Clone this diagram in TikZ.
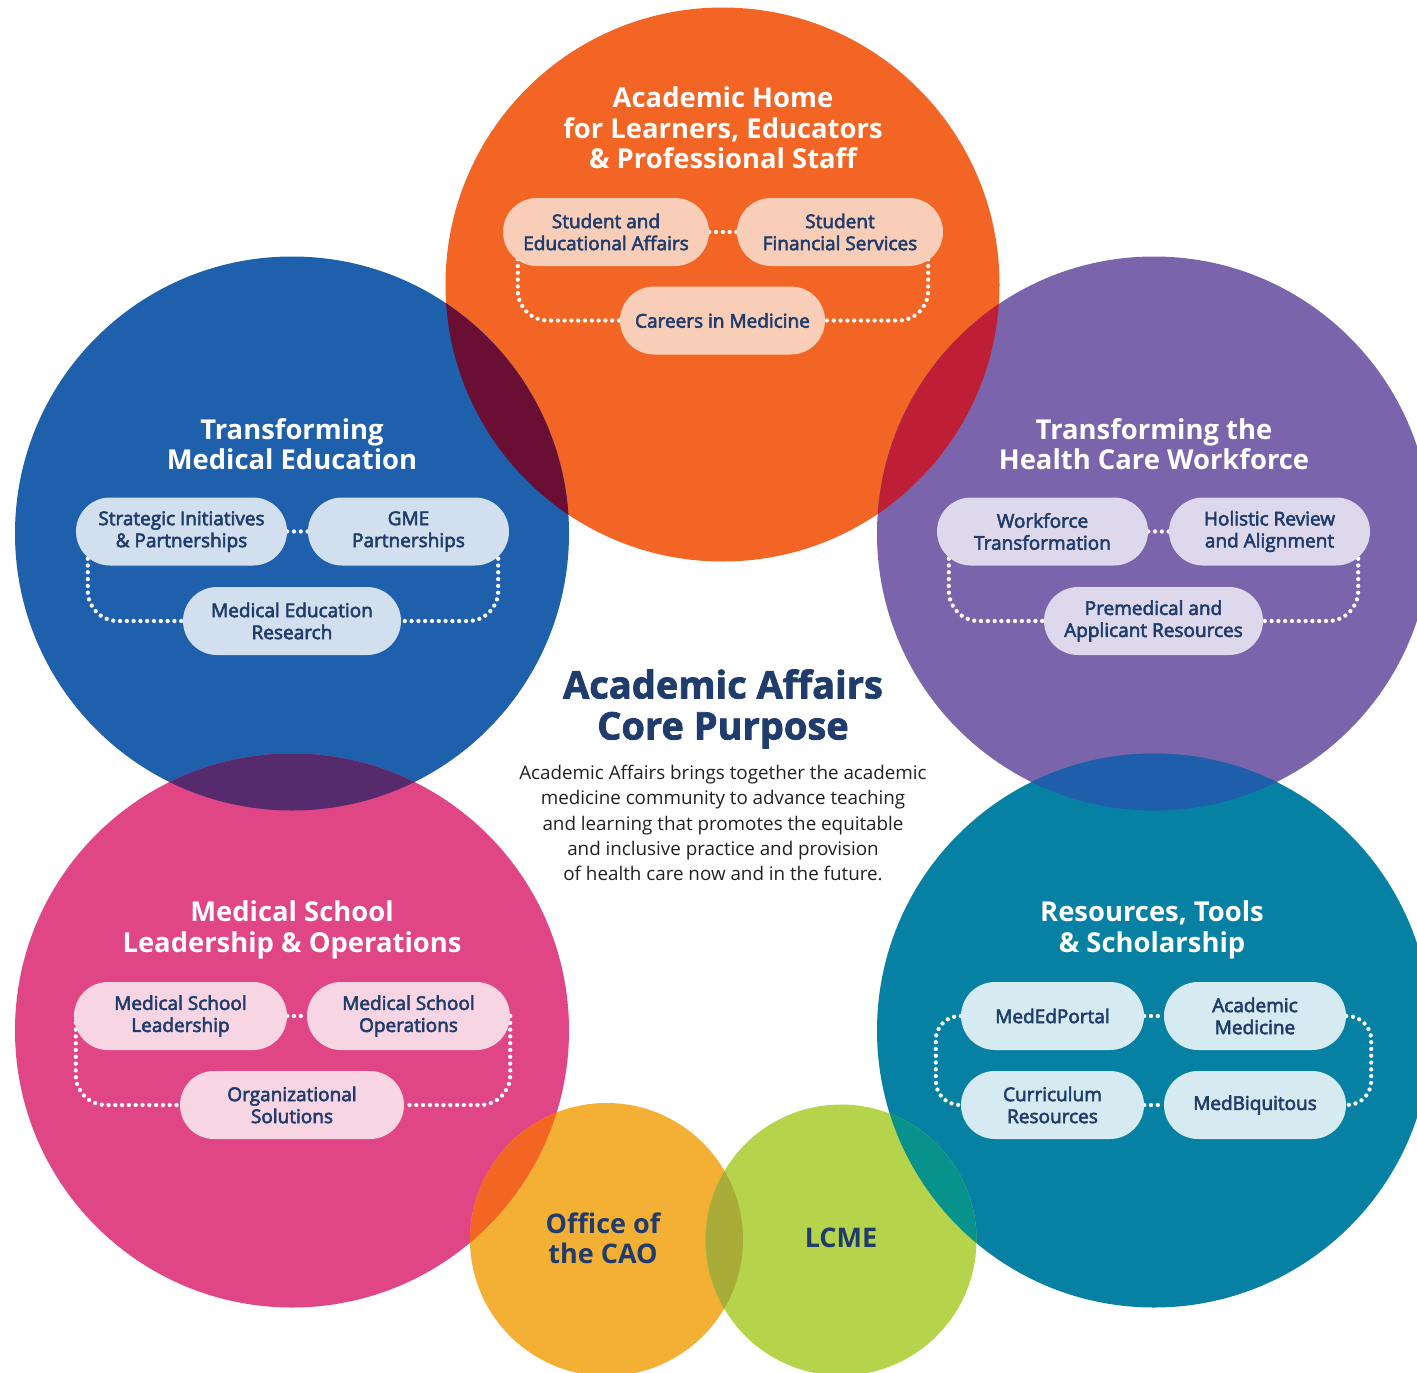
\documentclass[tikz,border=0pt]{standalone}
\usepackage{fontspec}
\setmainfont{Open Sans}
\newfontfamily\pillfont{Open Sans}[BoldFont={Open Sans}, BoldFeatures={FakeBold=3}]
\newfontfamily\heavyfont{Open Sans}[BoldFeatures={FakeBold=2}]
\definecolor{orangeC}{HTML}{F26524}
\definecolor{blueC}{HTML}{1F60AC}
\definecolor{purpleC}{HTML}{7A64AB}
\definecolor{pinkC}{HTML}{E04585}
\definecolor{tealC}{HTML}{0680A3}
\definecolor{yellowC}{HTML}{F4B035}
\definecolor{greenC}{HTML}{B5D44C}
\definecolor{lensOB}{HTML}{6A0E33}
\definecolor{lensOP}{HTML}{BF1F36}
\definecolor{lensBK}{HTML}{552B6E}
\definecolor{lensPT}{HTML}{1F5EAB}
\definecolor{lensKY}{HTML}{F26522}
\definecolor{lensYG}{HTML}{A9AC39}
\definecolor{lensGT}{HTML}{07938B}
\definecolor{pillO}{HTML}{F9CEB8}
\definecolor{pillB}{HTML}{D1DFEF}
\definecolor{pillU}{HTML}{DDD8EC}
\definecolor{pillK}{HTML}{F7D5E3}
\definecolor{pillT}{HTML}{D5EAF1}
\definecolor{navy}{HTML}{1F3C6D}
\definecolor{bodyC}{HTML}{231F20}
\pgfdeclarelayer{circles}
\pgfdeclarelayer{dotlayer}
\pgfsetlayers{circles,dotlayer,main}
\tikzset{
  pill/.style={rounded corners=34pt, minimum height=68pt, inner sep=0pt, align=center,
    text=navy, font=\pillfont\bfseries\fontsize{19}{22}\selectfont},
  ctitle/.style={align=center, text=white, inner sep=0pt,
    font=\bfseries\fontsize{27.4}{30.5}\selectfont},
  dotline/.style={white, line width=4.3pt, line cap=round, dash pattern=on 0pt off 6.8pt},
}
\begin{document}
\begin{tikzpicture}[x=1pt,y=-1pt]
\useasboundingbox (0,0) rectangle (1417,1373);
\clip (0,0) rectangle (1417,1373);
\coordinate (cO) at (722.5,284.5);
\coordinate (cB) at (292,533.5);
\coordinate (cU) at (1154,533.5);
\coordinate (cK) at (292,1030.5);
\coordinate (cT) at (1154,1030.5);
\coordinate (cY) at (606.5,1239.5);
\coordinate (cG) at (841,1240);
\begin{pgfonlayer}{circles}
\fill[orangeC] (cO) circle[radius=277pt];
\fill[blueC] (cB) circle[radius=277pt];
\fill[purpleC] (cU) circle[radius=277pt];
\fill[pinkC] (cK) circle[radius=277pt];
\fill[tealC] (cT) circle[radius=277pt];
\fill[yellowC] (cY) circle[radius=136.5pt];
\fill[greenC] (cG) circle[radius=135.5pt];
\begin{scope}\clip (cO) circle[radius=277pt]; \fill[lensOB] (cB) circle[radius=277pt];\end{scope}
\begin{scope}\clip (cO) circle[radius=277pt]; \fill[lensOP] (cU) circle[radius=277pt];\end{scope}
\begin{scope}\clip (cB) circle[radius=277pt]; \fill[lensBK] (cK) circle[radius=277pt];\end{scope}
\begin{scope}\clip (cU) circle[radius=277pt]; \fill[lensPT] (cT) circle[radius=277pt];\end{scope}
\begin{scope}\clip (cK) circle[radius=277pt]; \fill[lensKY] (cY) circle[radius=136.5pt];\end{scope}
\begin{scope}\clip (cY) circle[radius=136.5pt]; \fill[lensYG] (cG) circle[radius=135.5pt];\end{scope}
\begin{scope}\clip (cT) circle[radius=277pt]; \fill[lensGT] (cG) circle[radius=135.5pt];\end{scope}
\end{pgfonlayer}

% titles
\node[ctitle] (tO) at (723,128) {Academic Home\\for Learners, Educators\\\& Professional Staff};
\node[ctitle] (tB) at (292,444) {Transforming\\Medical Education};
\node[ctitle] (tU) at (1154,444) {Transforming the\\Health Care Workforce};
\node[ctitle] (tK) at (292,930) {Medical School\\Leadership \& Operations};
\node[ctitle] (tT) at (1152,930) {Resources, Tools\\\& Scholarship};

% pills
\node[pill, fill=pillO, minimum width=206pt] (o1) at (606,232) {Student and\\Educational Affairs};
\node[pill, fill=pillO, minimum width=206pt] (o2) at (840,232) {Student\\Financial Services};
\node[pill, fill=pillO, minimum width=205pt] (o3) at (722.5,320.5) {Careers in Medicine};

\node[pill, fill=pillB, minimum width=211pt] (b1) at (181.5,531.5) {Strategic Initiatives\\\& Partnerships};
\node[pill, fill=pillB, minimum width=201pt] (b2) at (408.5,531.5) {GME\\Partnerships};
\node[pill, fill=pillB, minimum width=218pt] (b3) at (292,621) {Medical Education\\Research};

\node[pill, fill=pillU, minimum width=211pt] (u1) at (1042.5,531.5) {Workforce\\Transformation};
\node[pill, fill=pillU, minimum width=201pt] (u2) at (1269.5,531.5) {Holistic Review\\and Alignment};
\node[pill, fill=pillU, minimum width=219pt] (u3) at (1153.5,621) {Premedical and\\Applicant Resources};

\node[pill, fill=pillK, minimum width=213pt] (k1) at (180.5,1016) {Medical School\\Leadership};
\node[pill, fill=pillK, minimum width=203pt] (k2) at (408.5,1016) {Medical School\\Operations};
\node[pill, fill=pillK, minimum width=224pt] (k3) at (292,1105) {Organizational\\Solutions};

\node[pill, fill=pillT, minimum width=183pt] (t1) at (1052.5,1016) {MedEdPortal};
\node[pill, fill=pillT, minimum width=182pt] (t2) at (1255,1016) {Academic\\Medicine};
\node[pill, fill=pillT, minimum width=183pt] (t3) at (1052.5,1105) {Curriculum\\Resources};
\node[pill, fill=pillT, minimum width=182pt] (t4) at (1255,1105) {MedBiquitous};

% dotted connectors
\begin{pgfonlayer}{dotlayer}
\draw[dotline] (o1.east) -- (o2.west);
\draw[dotline, rounded corners=30pt] ([xshift=15pt]o1.west) |- (o3.west);
\draw[dotline, rounded corners=30pt] ([xshift=-15pt]o2.east) |- (o3.east);
\draw[dotline] (b1.east) -- (b2.west);
\draw[dotline, rounded corners=30pt] ([xshift=12pt]b1.west) |- (b3.west);
\draw[dotline, rounded corners=30pt] ([xshift=-11pt]b2.east) |- (b3.east);
\draw[dotline] (u1.east) -- (u2.west);
\draw[dotline, rounded corners=30pt] ([xshift=12pt]u1.west) |- (u3.west);
\draw[dotline, rounded corners=30pt] ([xshift=-12pt]u2.east) |- (u3.east);
\draw[dotline] (k1.east) -- (k2.west);
\draw[dotline, rounded corners=30pt] ([xshift=2pt]k1.west) |- (k3.west);
\draw[dotline, rounded corners=30pt] ([xshift=0pt]k2.east) |- (k3.east);
\draw[dotline] (t1.east) -- (t2.west);
\draw[dotline] (t3.east) -- (t4.west);
\draw[dotline, rounded corners=24pt] (t1.west) -- ++(-25pt,0pt) |- (t3.west);
\draw[dotline, rounded corners=24pt] (t2.east) -- ++(25pt,0pt) |- (t4.east);
\end{pgfonlayer}

% centre text
\node[align=center, text=navy, inner sep=0pt, font=\heavyfont\bfseries\fontsize{38}{41}\selectfont] (core) at (723,709) {Academic Affairs\\Core Purpose};
\node[align=center, text=bodyC, inner sep=0pt, font=\fontsize{18.8}{25.2}\selectfont] (body) at (723,823) {Academic Affairs brings together the academic\\medicine community to advance teaching\\and learning that promotes the equitable\\and inclusive practice and provision\\of health care now and in the future.};

% bottom circles
\node[align=center, text=navy, inner sep=0pt, font=\bfseries\fontsize{27}{30}\selectfont] (cao) at (603,1238) {Office of\\the CAO};
\node[text=navy, inner sep=0pt, font=\bfseries\fontsize{27}{30}\selectfont] (lcme) at (841,1238) {LCME};
\end{tikzpicture}
\end{document}
